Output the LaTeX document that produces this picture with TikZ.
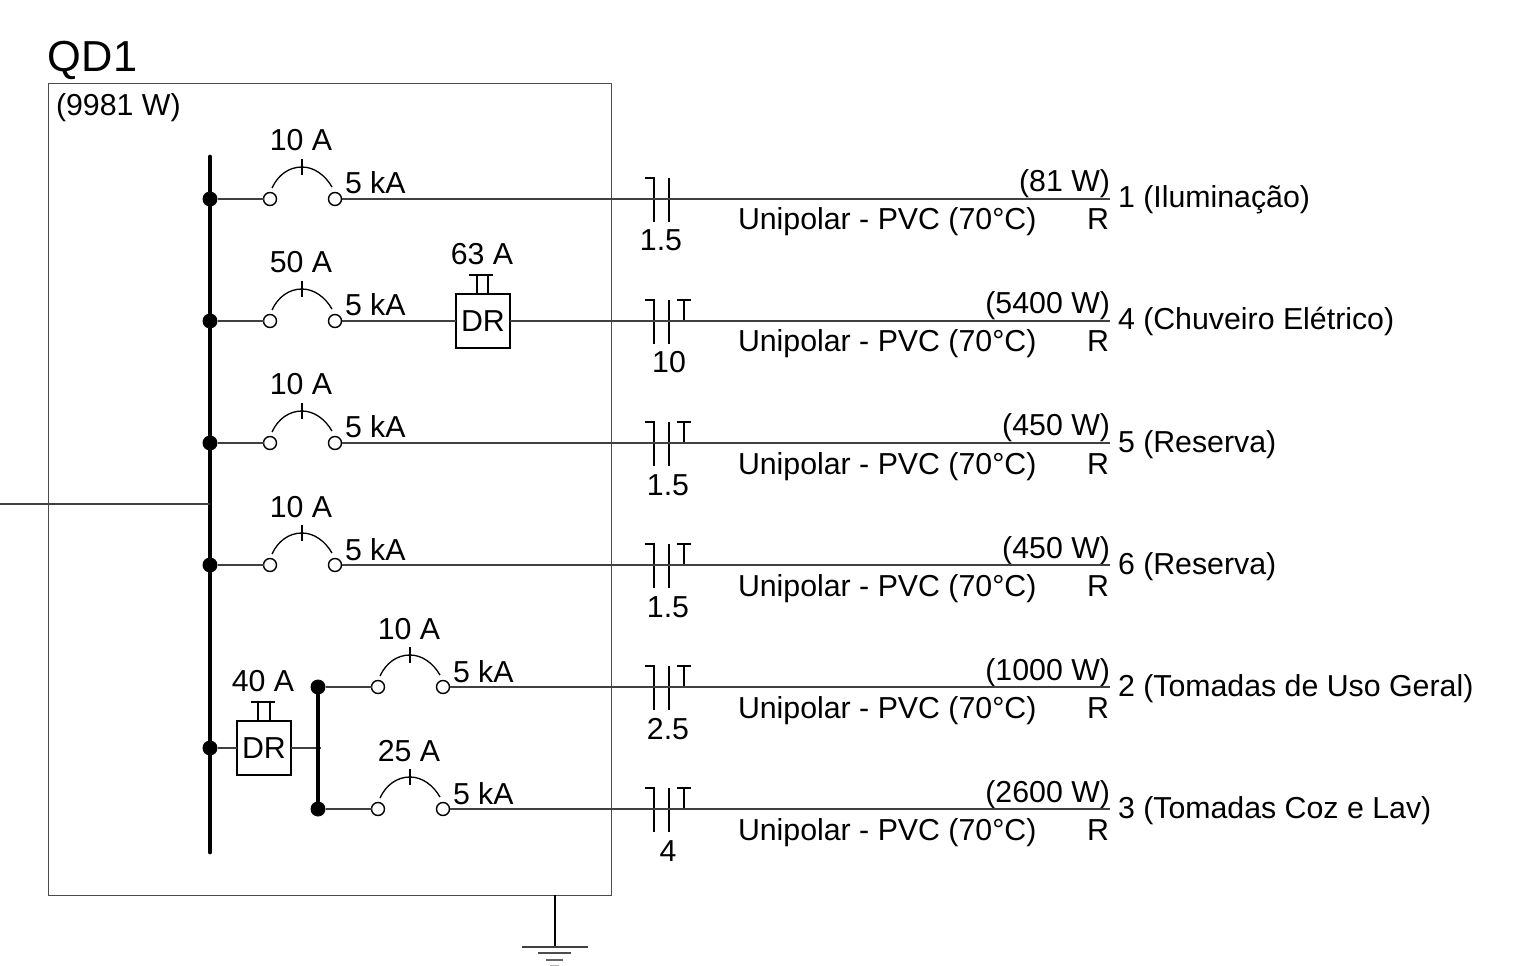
\documentclass[tikz,border=0pt]{standalone}
\usepackage{fontspec}
\setmainfont{Liberation Sans}
\begin{document}
\begin{tikzpicture}[x=0.02cm,y=-0.02cm]
	\tikzstyle{invisible} = [outer sep=0,inner sep=0,minimum size=0]
	\tikzstyle{wire} = [line width=0.85pt,black!75]
	\tikzstyle{thinline} = [line width=0.75pt]
	\tikzstyle{busbar} = [line width=2.7pt,line cap=round]
	\tikzstyle{frame} = [line width=0.5pt,black!70]
	\tikzstyle{label} = [invisible,font=\fontsize{17.25}{20}\selectfont,anchor=base]
	\tikzstyle{labelw} = [label,anchor=base west]
	\tikzstyle{labele} = [label,anchor=base east]
	\tikzstyle{terminal} = [circle,draw,line width=0.8pt,outer sep=0,inner sep=0,minimum size=0.26cm]
	\tikzstyle{junction} = [circle,fill,outer sep=0,inner sep=0,minimum size=0.3cm]
	\tikzstyle{drbox} = [rectangle,draw,line width=0.75pt,outer sep=0,inner sep=0,minimum size=1.08cm,font=\fontsize{17.25}{20}\selectfont]
	\useasboundingbox (0,0) rectangle (1529,966);

	\node [invisible,anchor=base west,font=\fontsize{24.7}{28}\selectfont] (qd) at (48,72) {QD1};
	\node [labelw] (load) at (56,116) {(9981 W)};
	\draw [frame] (48,83) rectangle (611,895);

	% barramentos
	\coordinate (bus1t) at (210,157);
	\coordinate (bus1b) at (210,852);
	\coordinate (feed) at (0,504);
	\coordinate (feedb) at (210,504);
	\draw [busbar] (bus1t) -- (bus1b);
	\draw [wire] (feed) -- (feedb);

	% circuitos
	\foreach \n/\y/\x/\amp/\pw/\nm/\bit/\bitx in {
		1/199/270/10 A/(81 W)/1 (Iluminação)/1.5/661,
		4/321/270/50 A/(5400 W)/4 (Chuveiro Elétrico)/10/669,
		5/443/270/10 A/(450 W)/5 (Reserva)/1.5/668,
		6/565/270/10 A/(450 W)/6 (Reserva)/1.5/668,
		2/687/378/10 A/(1000 W)/2 (Tomadas de Uso Geral)/2.5/668,
		3/809/378/25 A/(2600 W)/3 (Tomadas Coz e Lav)/4/668}{
		\node [junction] (dot\n) at (\x-60,\y) {};
		\node [terminal] (ta\n) at (\x,\y) {};
		\node [terminal] (tb\n) at (\x+65,\y) {};
		\coordinate (end\n) at (1110,\y);
		\draw [wire] (dot\n) -- (ta\n);
		\draw [thinline] (\x+2,\y-11) .. controls (\x+8,\y-24) and (\x+19,\y-32) .. (\x+32,\y-32)
			.. controls (\x+44,\y-32) and (\x+55,\y-24) .. (\x+62,\y-12);
		\draw [thinline] (\x+32,\y-40) -- (\x+32,\y-24);
		\node [label] (amp\n) at (\x+31,\y-48) {\amp};
		\node [labelw] (icc\n) at (\x+75,\y-5) {5 kA};
		\draw [thinline] (645,\y-21) -- (654,\y-21) -- (654,\y+23);
		\draw [thinline] (669,\y-21) -- (669,\y+23);
		\node [label] (bit\n) at (\bitx,\y+52) {\bit};
		\node [labele] (pw\n) at (1110,\y-7) {\pw};
		\node [labelw] (cabo\n) at (738,\y+31) {Unipolar - PVC (70°C)};
		\node [labele] (fase\n) at (1109,\y+31) {R};
		\node [labelw] (nome\n) at (1118,\y+9) {\nm};
	}
	\foreach \n/\y in {4/321,5/443,6/565,2/687,3/809}{
		\draw [thinline] (677,\y-21) -- (691,\y-21);
		\draw [thinline] (684,\y-21) -- (684,\y);
	}
	\foreach \n in {1,5,6,2,3}{
		\draw [wire] (tb\n) -- (end\n);
	}

	% DR do circuito 4
	\node [drbox] (dr4) at (483,321) {DR};
	\draw [wire] (tb4) -- (dr4);
	\draw [wire] (dr4) -- (end4);
	\draw [thinline] (477,294) -- (477,275) (488,294) -- (488,275) (469,275) -- (493,275);
	\node [label] (dr4amp) at (482,265) {63 A};

	% DR geral das tomadas
	\node [junction] (dotdr) at (210,748) {};
	\node [drbox] (dr0) at (264,748) {DR};
	\coordinate (bus2m) at (321,748);
	\draw [wire] (dotdr) -- (dr0);
	\draw [wire] (dr0) -- (bus2m);
	\draw [busbar] (dot2) -- (dot3);
	\draw [thinline] (258,721) -- (258,702) (270,721) -- (270,702) (251,702) -- (275,702);
	\node [label] (dr0amp) at (263,691) {40 A};

	% terra
	\coordinate (gnd1) at (555,895);
	\coordinate (gnd2) at (555,947);
	\draw [thinline] (gnd1) -- (gnd2);
	\draw [thinline,black!75] (522,947) -- (588,947);
	\draw [thinline,black!70] (538,953) -- (571,953);
	\draw [thinline,black!60] (546,960) -- (563,960);
	\draw [thinline,black!30] (550,966) -- (559,966);
\end{tikzpicture}
\end{document}
